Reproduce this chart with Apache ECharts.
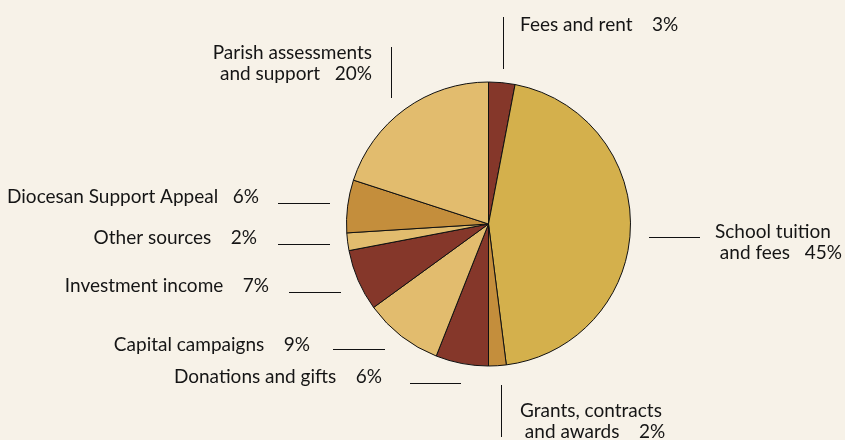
<!DOCTYPE html>
<html>
<head>
<meta charset="utf-8">
<script src="https://cdn.jsdelivr.net/npm/echarts@6/dist/echarts.min.js"></script>
<style>
  html, body { margin: 0; padding: 0; background: #f7f2e8; }
  #chart { width: 845px; height: 440px; }
</style>
</head>
<body>
<div id="chart"></div>
<script>
// slices clockwise from 12 o'clock
const names = [
  "Fees and rent",
  "School tuition\n and fees",
  "Grants, contracts\n and awards",
  "Donations and gifts",
  "Capital campaigns",
  "Investment income",
  "Other sources",
  "Diocesan Support Appeal",
  "Parish assessments\nand support"
];
const shares = [3, 45, 2, 6, 9, 7, 2, 6, 20];
const sliceColors = [
  "#85372a", "#d4b04c", "#c48e3c", "#85372a", "#e2bc6e",
  "#85372a", "#e2bc6e", "#c48e3c", "#e2bc6e"
];

// label anchor, gap before the percent, and detached leader line per slice
const labelSpots = [
  { x: 520, y: 25, align: "left", gap: 4, line: [[503.5, 17], [503.5, 69]] },
  { x: 715, y: 242, align: "left", gap: 3, line: [[649, 237.5], [700, 237.5]] },
  { x: 520, y: 421, align: "left", gap: 4, line: [[501.5, 385], [501.5, 437]] },
  { x: 382, y: 377, align: "right", gap: 4, line: [[410, 383.5], [461, 383.5]] },
  { x: 310, y: 345, align: "right", gap: 4, line: [[333, 349.5], [385, 349.5]] },
  { x: 269, y: 286, align: "right", gap: 4, line: [[289, 292.5], [341, 292.5]] },
  { x: 257, y: 238, align: "right", gap: 4, line: [[278, 244.5], [330, 244.5]] },
  { x: 259, y: 197, align: "right", gap: 3, line: [[278, 203.5], [330, 203.5]] },
  { x: 372, y: 63, align: "right", gap: 3, line: [[391.5, 47], [391.5, 98]] }
];

const chart = echarts.init(document.getElementById("chart"));

chart.setOption({
  backgroundColor: "#f7f2e8",
  animation: false,
  series: [
    {
      type: "pie",
      center: [488.5, 224],
      radius: [0, 142],
      startAngle: 90,
      clockwise: true,
      avoidLabelOverlap: false,
      itemStyle: { borderColor: "#111", borderWidth: 1 },
      label: {
        show: true,
        formatter: (p) =>
          p.name + " ".repeat(labelSpots[p.dataIndex].gap) + p.value + "%",
        fontFamily: "Lato",
        fontSize: 19,
        lineHeight: 21,
        color: "#151515"
      },
      labelLine: { show: true, lineStyle: { color: "#111", width: 1 } },
      labelLayout: (params) => {
        const s = labelSpots[params.dataIndex];
        return {
          x: s.x,
          y: s.y,
          align: s.align,
          verticalAlign: "middle",
          labelLinePoints: [s.line[0], s.line[1], s.line[1]]
        };
      },
      emphasis: { disabled: true },
      data: names.map((n, i) => ({
        name: n,
        value: shares[i],
        itemStyle: { color: sliceColors[i] }
      }))
    }
  ]
});
</script>
</body>
</html>
